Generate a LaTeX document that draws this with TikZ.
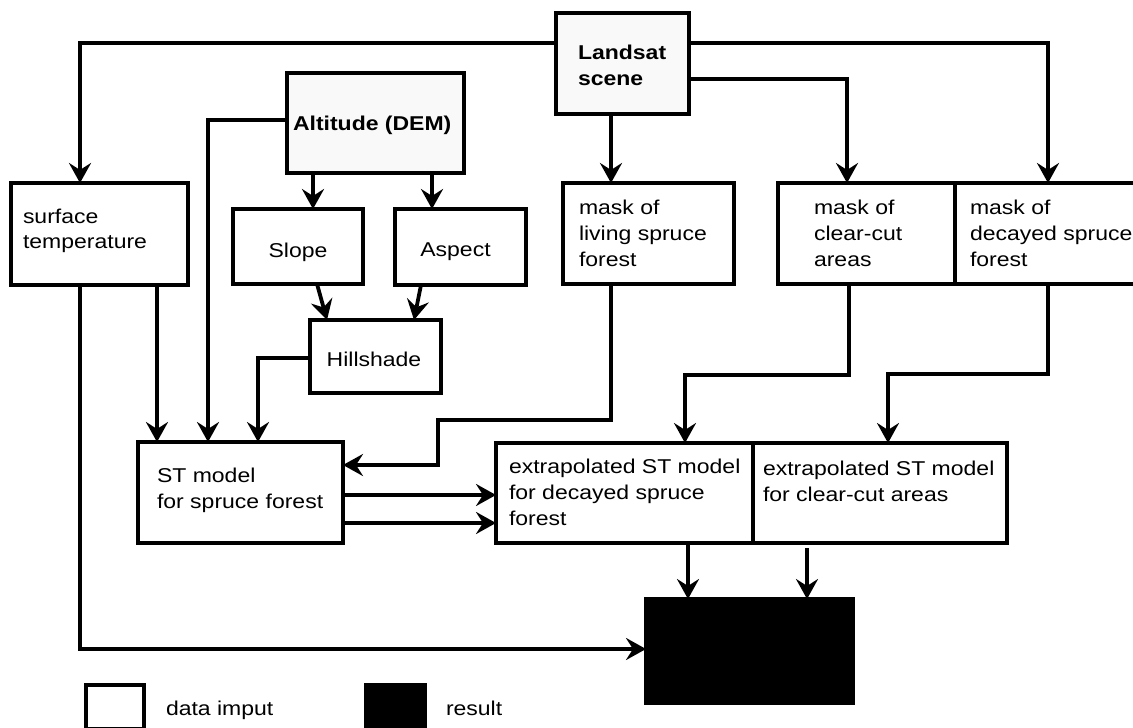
\documentclass[tikz,border=0pt]{standalone}
\usepackage{fontspec}
\setmainfont[FakeStretch=1.15]{Liberation Sans}
\usetikzlibrary{arrows.meta}
\begin{document}
\begin{tikzpicture}[x=0.5pt,y=-0.5pt,
  box/.style={draw, line width=2pt, inner sep=0pt, outer sep=0pt},
  con/.style={line width=1.9pt},
  arr/.style={con, -{Stealth[length=10pt,width=11pt,inset=3.5pt]}},
  txt/.style={inner sep=0pt, outer sep=0pt, align=left, anchor=base west, font=\fontsize{10}{13}\selectfont},
  ctxt/.style={txt, anchor=base},
  btxt/.style={txt, font=\fontsize{10}{13}\selectfont\bfseries}]
\clip (0,0) rectangle (1133,727);
% boxes
\node[box, fill=gray!5, minimum width=66.5pt, minimum height=50.5pt] (land) at (622.5,63.5) {};
\node[box, fill=gray!5, minimum width=88.5pt, minimum height=50pt] (alt) at (375.5,123) {};
\node[box, minimum width=88.5pt, minimum height=51pt] (surf) at (99.5,234) {};
\node[box, minimum width=65pt, minimum height=37.5pt] (slope) at (298,246.5) {};
\node[box, minimum width=65.5pt, minimum height=38pt] (aspect) at (460.5,247) {};
\node[box, minimum width=65.5pt, minimum height=36.5pt] (hill) at (375.5,356.5) {};
\node[box, minimum width=85.5pt, minimum height=50.5pt] (living) at (648.5,233.5) {};
\node[box, minimum width=88.5pt, minimum height=50.5pt] (clear) at (866.5,233.5) {};
\node[box, minimum width=102.5pt, minimum height=50.5pt] (decay) at (1057.5,233.5) {};
\node[box, minimum width=102.5pt, minimum height=50.5pt] (st) at (240.5,492.5) {};
\node[box, minimum width=128.5pt, minimum height=50pt] (exd) at (624.5,493) {};
\node[box, minimum width=127pt, minimum height=50pt] (exc) at (880,493) {};
\node[box, fill=black, minimum width=103.5pt, minimum height=52pt] (res) at (749.5,651) {};
\node[box, minimum width=29pt, minimum height=22pt] (leg1) at (115,707) {};
\node[box, fill=black, minimum width=29.5pt, minimum height=22pt] (leg2) at (395.5,707) {};
% texts (anchor = baseline of the last line)
\node[btxt] (t-land) at (578,86) {Landsat\\scene};
\node[btxt] (t-alt) at (293,131) {Altitude (DEM)};
\node[txt] (t-surf) at (23,249) {surface\\temperature};
\node[ctxt] (t-slope) at (298,257) {Slope};
\node[ctxt] (t-aspect) at (455.5,256) {Aspect};
\node[ctxt] (t-hill) at (374,366) {Hillshade};
\node[txt] (t-living) at (579,266) {mask of\\living spruce\\forest};
\node[txt] (t-clear) at (814,266) {mask of\\clear-cut\\areas};
\node[txt] (t-decay) at (970,266) {mask of\\decayed spruce\\forest};
\node[txt] (t-st) at (157,508) {ST model\\for spruce forest};
\node[txt] (t-exd) at (509,525) {extrapolated ST model\\for decayed spruce\\forest};
\node[txt] (t-exc) at (763,501) {extrapolated ST model\\for clear-cut areas};
\node[txt] (t-leg1) at (166,715) {data imput};
\node[txt] (t-leg2) at (446,715) {result};
% connectors
\draw[arr] (land.west |- 0,43) -| (surf.north -| 80,0);
\draw[arr] (land.east |- 0,43) -| (decay.north -| 1048,0);
\draw[arr] (land.east |- 0,79) -| (clear.north -| 847,0);
\draw[arr] (land.south -| 611,0) -- (living.north -| 611,0);
\draw[arr] (alt.west |- 0,120) -| (st.north -| 208,0);
\draw[arr] (alt.south -| 313,0) -- (slope.north -| 313,0);
\draw[arr] (alt.south -| 432,0) -- (aspect.north -| 432,0);
\draw[arr] (slope.south -| 317,0) -- (hill.north -| 327,0);
\draw[arr] (aspect.south -| 421,0) -- (hill.north -| 414,0);
\draw[arr] (hill.west |- 0,358) -| (st.north -| 258,0);
\draw[arr] (surf.south -| 157,0) -- (st.north -| 157,0);
\draw[arr] (surf.south -| 80,0) |- (res.west |- 0,649);
\draw[arr] (living.south -| 611,0) |- (438,420) |- (st.east |- 0,465);
\draw[arr] (st.east |- 0,495) -- (exd.west |- 0,495);
\draw[arr] (st.east |- 0,523) -- (exd.west |- 0,523);
\draw[arr] (clear.south -| 849,0) |- (685,375) -- (exd.north -| 685,0);
\draw[arr] (decay.south -| 1048,0) |- (888,374) -- (exc.north -| 888,0);
\draw[arr] (exd.south -| 688,0) -- (res.north -| 688,0);
\draw[arr, shorten <=2.5pt] (exc.south -| 807,0) -- (res.north -| 807,0);
\end{tikzpicture}
\end{document}
